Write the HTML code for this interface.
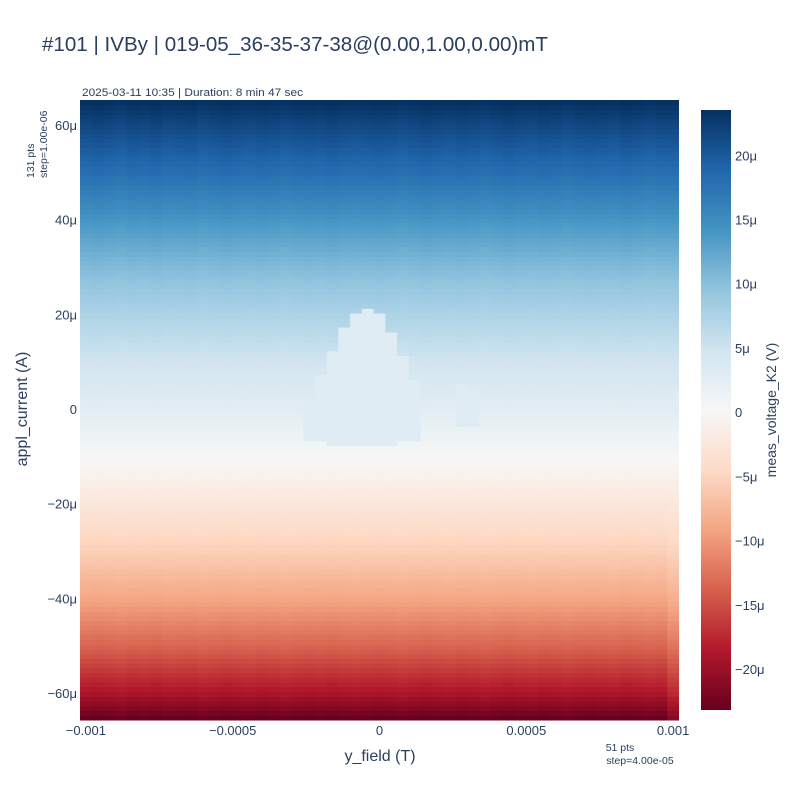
<!DOCTYPE html>
<html><head><meta charset="utf-8">
<style>
body{margin:0;background:#fff;}
svg text{font-family:"Liberation Sans",sans-serif;fill:#2a3f5f;}
</style></head>
<body>
<svg id="chart" width="800" height="800" xmlns="http://www.w3.org/2000/svg">
<defs>
<linearGradient id="cbgrad" x1="0" y1="1" x2="0" y2="0">
<stop offset="0" stop-color="rgb(103,0,31)"/><stop offset="0.1" stop-color="rgb(178,24,43)"/>
<stop offset="0.2" stop-color="rgb(214,96,77)"/><stop offset="0.3" stop-color="rgb(244,165,130)"/>
<stop offset="0.4" stop-color="rgb(253,219,199)"/><stop offset="0.5" stop-color="rgb(247,247,247)"/>
<stop offset="0.6" stop-color="rgb(209,229,240)"/><stop offset="0.7" stop-color="rgb(146,197,222)"/>
<stop offset="0.8" stop-color="rgb(67,147,195)"/><stop offset="0.9" stop-color="rgb(33,102,172)"/>
<stop offset="1" stop-color="rgb(5,48,97)"/>
</linearGradient>
</defs>
<text x="42" y="51" font-size="20" textLength="506" lengthAdjust="spacingAndGlyphs">#101 | IVBy | 019-05_36-35-37-38@(0.00,1.00,0.00)mT</text>
<text x="82" y="96" font-size="11" textLength="221" lengthAdjust="spacingAndGlyphs">2025-03-11 10:35 | Duration: 8 min 47 sec</text>
<g transform="translate(34,178) rotate(-90)">
<text x="0" y="0" font-size="10.5" text-anchor="start">131 pts</text>
<text x="0" y="13" font-size="10.5" text-anchor="start">step=1.00e-06</text>
</g>
<text x="620" y="751" font-size="10.5" text-anchor="middle">51 pts</text>
<text x="640" y="764" font-size="10.5" text-anchor="middle">step=4.00e-05</text>
<g id="cells"></g>
<g id="xticks"></g>
<g id="yticks"></g>
<text x="380" y="761" font-size="16" text-anchor="middle">y_field (T)</text>
<text transform="translate(27,409) rotate(-90)" font-size="16" text-anchor="middle">appl_current (A)</text>
<rect x="701" y="110" width="30" height="600" fill="url(#cbgrad)"/>
<g id="cbticks"></g>
<text transform="translate(776,410) rotate(-90)" font-size="14" text-anchor="middle">meas_voltage_K2 (V)</text>
</svg>
<script>
// data
const rowCurrents = [-65,-60,-50,-40,-30,-20,-10,-5,0,10,20,30,40,50,60,65]; // µA
const rowVolts    = [-23,-19,-13.5,-9,-5.5,-2.6,0.4,1.6,2.8,4.8,7.5,10.5,14,18,21.5,23.5]; // µV
const colScale = [1.0,1.01,1.0,0.99,1.005,1.0,1.01,0.995,1.0,1.005,0.99,1.0,1.01,1.0,0.995,1.005,1.0,0.99,1.0,1.005,1.0,1.01,1.0,0.995,1.0,1.005,1.0,0.99,1.0,1.01,1.0,0.995,1.005,1.0,0.99,1.0,1.01,1.0,0.995,1.005,1.0,0.99,1.0,1.005,1.0,0.995,1.01,1.0,0.99,1.0,0.92];
const plateauCols   = [19,20,21,22,23,24,25,26,27,28,32,33];
const plateauTop    = [1,7,12,17,20,21,20,16,11,6,5,4];   // µA
const plateauBottom = [-6,-6,-7,-7,-7,-7,-7,-7,-6,-6,-3,-3]; // µA
const plateauValue = 3.2;
const xTickVals = [-0.001,-0.0005,0,0.0005,0.001];
const xTickLabels = ["\u22120.001","\u22120.0005","0","0.0005","0.001"];
const yTickVals = [60,40,20,0,-20,-40,-60];
const yTickLabels = ["60\u03bc","40\u03bc","20\u03bc","0","\u221220\u03bc","\u221240\u03bc","\u221260\u03bc"];
const cbTickVals = [20,15,10,5,0,-5,-10,-15,-20];
const cbTickLabels = ["20\u03bc","15\u03bc","10\u03bc","5\u03bc","0","\u22125\u03bc","\u221210\u03bc","\u221215\u03bc","\u221220\u03bc"];
const zmin=-23.1, zmax=23.6;
const nCols=51, nRows=131, xStep=0.00004, yStart=-65;

const X0=80,X1=679,Y0=100,Y1=720;
const xs = v => X0+(v+0.00102)/0.00204*(X1-X0);
const ys = v => Y1-(v+65.5)/131*(Y1-Y0);
const cbY = v => 710-(v-zmin)/(zmax-zmin)*600;
const stops=[[103,0,31],[178,24,43],[214,96,77],[244,165,130],[253,219,199],[247,247,247],[209,229,240],[146,197,222],[67,147,195],[33,102,172],[5,48,97]];
function color(z){let t=(z-zmin)/(zmax-zmin);t=Math.max(0,Math.min(1,t))*10;let i=Math.min(9,Math.floor(t)),f=t-i;
 const a=stops[i],b=stops[i+1];return `rgb(${a.map((c,k)=>Math.round(c+(b[k]-c)*f)).join(',')})`;}
function profile(I){for(let k=0;k<rowCurrents.length-1;k++){if(I<=rowCurrents[k+1]){const f=(I-rowCurrents[k])/(rowCurrents[k+1]-rowCurrents[k]);return rowVolts[k]+f*(rowVolts[k+1]-rowVolts[k]);}}return rowVolts[rowVolts.length-1];}
const NS="http://www.w3.org/2000/svg";
const cells=document.getElementById('cells');
for(let c=0;c<nCols;c++){
 const xv=-0.001+c*xStep;const xl=xs(xv-xStep/2),xr=xs(xv+xStep/2);
 const pi=plateauCols.indexOf(c);
 for(let r=0;r<nRows;r++){
  const I=yStart+r;const p=profile(I);
  let z=(p<0||c<nCols-1)?p*colScale[c]:p;
  if(pi>=0&&I<=plateauTop[pi]&&I>=plateauBottom[pi])z=plateauValue;
  const el=document.createElementNS(NS,'rect');
  
  
  el.setAttribute('x',xl.toFixed(2));el.setAttribute('width',(Math.min(xr+0.5,X1)-xl).toFixed(2));
  const yt=ys(I+0.5),yb=ys(I-0.5);
  el.setAttribute('y',yt.toFixed(2));el.setAttribute('height',(yb-yt+0.5).toFixed(2));
  el.setAttribute('fill',color(z));cells.appendChild(el);
 }
}
function txt(g,x,y,s,anchor,name){const t=document.createElementNS(NS,'text');
 
 
 t.setAttribute('x',x);t.setAttribute('y',y);t.setAttribute('font-size','13');t.setAttribute('text-anchor',anchor);t.textContent=s;g.appendChild(t);}
const xg=document.getElementById('xticks');xTickVals.forEach((v,i)=>txt(xg,xs(v),735,xTickLabels[i],'middle','x-tick-label'));
const yg=document.getElementById('yticks');yTickVals.forEach((v,i)=>txt(yg,77,ys(v)+4,yTickLabels[i],'end','y-tick-label'));
const cg=document.getElementById('cbticks');cbTickVals.forEach((v,i)=>txt(cg,735,cbY(v)+4,cbTickLabels[i],'start','colorbar-tick-label'));
</script>
</body></html>
